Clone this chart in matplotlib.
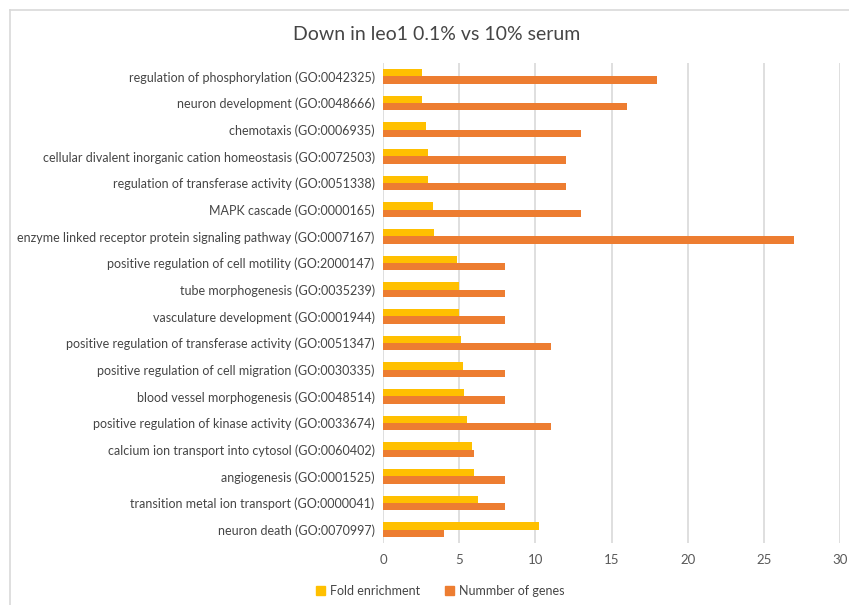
import numpy as np
import matplotlib
matplotlib.use("Agg")
import matplotlib.pyplot as plt
from matplotlib.patches import Patch
from matplotlib.lines import Line2D

plt.rcParams['font.family'] = ['Lato', 'DejaVu Sans']

terms = [
    "regulation of phosphorylation (GO:0042325)",
    "neuron development (GO:0048666)",
    "chemotaxis (GO:0006935)",
    "cellular divalent inorganic cation homeostasis (GO:0072503)",
    "regulation of transferase activity (GO:0051338)",
    "MAPK cascade (GO:0000165)",
    "enzyme linked receptor protein signaling pathway (GO:0007167)",
    "positive regulation of cell motility (GO:2000147)",
    "tube morphogenesis (GO:0035239)",
    "vasculature development (GO:0001944)",
    "positive regulation of transferase activity (GO:0051347)",
    "positive regulation of cell migration (GO:0030335)",
    "blood vessel morphogenesis (GO:0048514)",
    "positive regulation of kinase activity (GO:0033674)",
    "calcium ion transport into cytosol (GO:0060402)",
    "angiogenesis (GO:0001525)",
    "transition metal ion transport (GO:0000041)",
    "neuron death (GO:0070997)",
]
fold_enrichment = [2.54, 2.54, 2.83, 2.94, 2.94, 3.27, 3.38, 4.89, 5.02,
                   5.02, 5.11, 5.24, 5.35, 5.51, 5.84, 6.0, 6.24, 10.22]
n_genes = [18, 16, 13, 12, 12, 13, 27, 8, 8, 8, 11, 8, 8, 11, 6, 8, 8, 4]

yellow = "#FFC000"
orange = "#ED7D31"
txt = "#454545"

fig = plt.figure(figsize=(8.49, 6.05), dpi=100)

# rand do grafico (so aparece em cima e a esquerda)
fig.add_artist(Line2D([10/849, 1], [1 - 10/605, 1 - 10/605], color="#D9D9D9", lw=1.2))
fig.add_artist(Line2D([10/849, 10/849], [0, 1 - 10/605], color="#D9D9D9", lw=1.2))

ax = fig.add_axes([383/849, 1 - 543/605, (840 - 383)/849, 480/605])

y = np.arange(len(terms))
h = 0.27
ax.barh(y - h/2, fold_enrichment, height=h, color=yellow, zorder=3)
ax.barh(y + h/2, n_genes, height=h, color=orange, zorder=3)

ax.set_xlim(0, 30)
ax.set_ylim(len(terms) - 0.5, -0.5)
ax.set_xticks(range(0, 31, 5))
ax.set_yticks(y)
ax.set_yticklabels(terms, fontsize=9, color=txt)
ax.tick_params(axis='x', labelsize=9.5, colors="#595959", length=0, pad=8)
ax.tick_params(axis='y', length=0, pad=6)
ax.grid(axis='x', color="#D9D9D9", linewidth=1.2, zorder=0)
for s in ax.spines.values():
    s.set_visible(False)

fig.text(437/849, 1 - 35/605, "Down in leo1 0.1% vs 10% serum",
         ha='center', va='center', fontsize=14, color=txt)

handles = [Patch(color=yellow, label="Fold enrichment"),
           Patch(color=orange, label="Nummber of genes")]
fig.legend(handles=handles, loc='center', bbox_to_anchor=(440/849, 1 - 591/605),
           ncol=2, frameon=False, fontsize=9, handlelength=0.7, handleheight=0.7,
           columnspacing=2.0, handletextpad=0.4, labelcolor=txt)

fig.savefig("out.png", dpi=100)
